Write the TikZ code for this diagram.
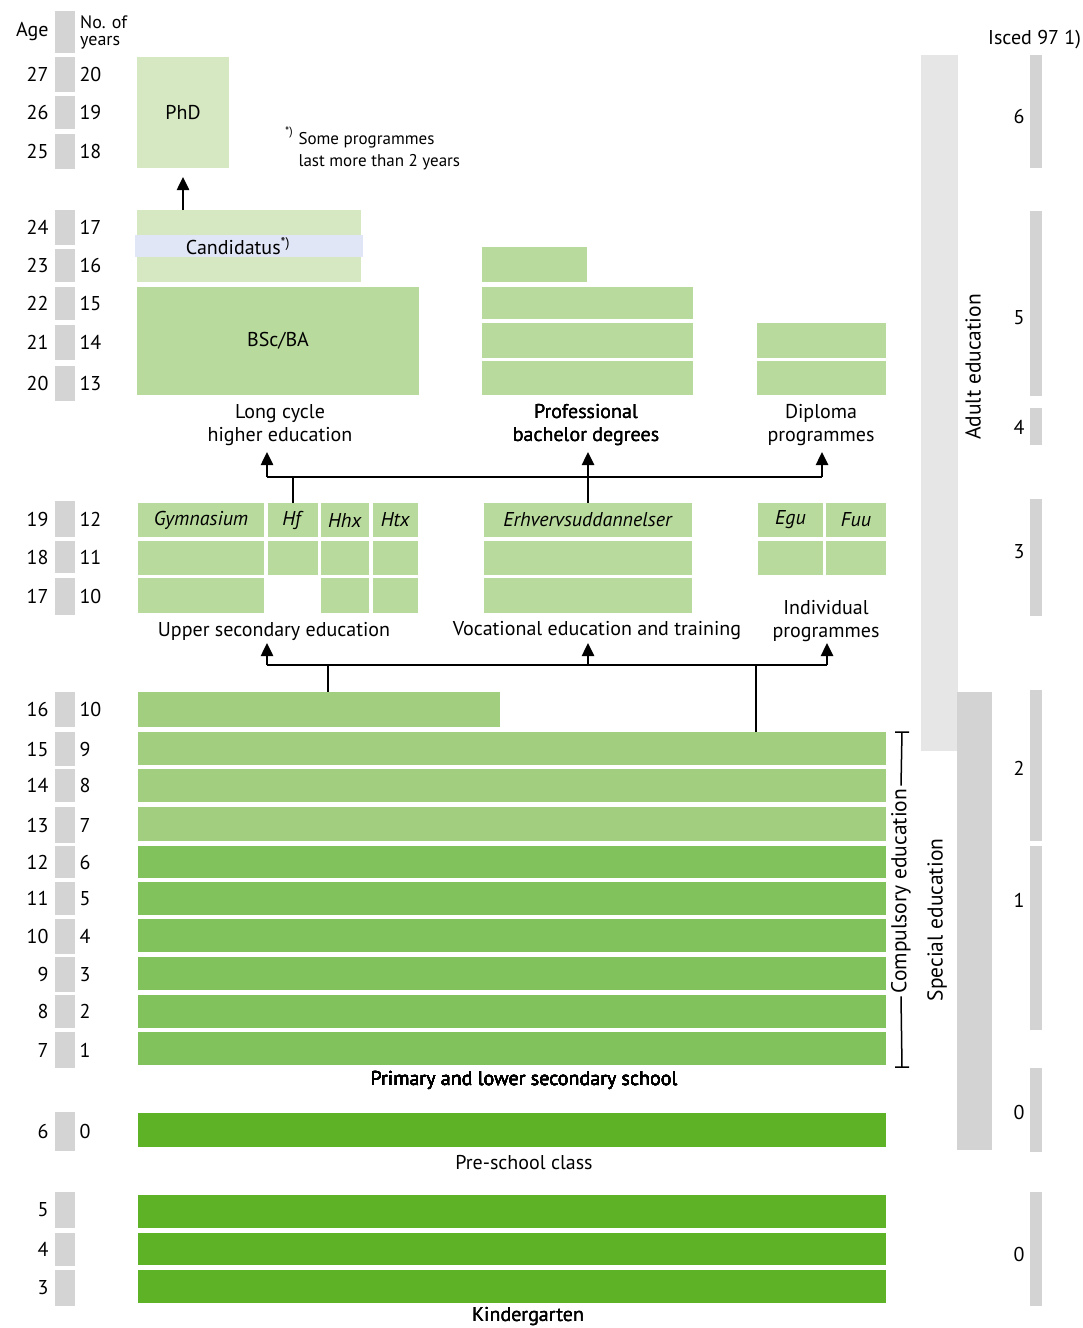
\documentclass[tikz,border=0pt]{standalone}
\usepackage{fontspec}
\setmainfont{PT Sans}
\usetikzlibrary{arrows.meta,positioning}

\definecolor{ageGrey}{HTML}{D4D4D4}
\definecolor{adultGrey}{HTML}{E6E6E6}
\definecolor{specGrey}{HTML}{D3D3D3}
\definecolor{paleGreen}{HTML}{D5E8C2}
\definecolor{candBlue}{HTML}{E1E6F6}
\definecolor{midGreen}{HTML}{B9DA9D}
\definecolor{lowGreen}{HTML}{A1CF7F}
\definecolor{primGreen}{HTML}{82C25C}
\definecolor{preGreen}{HTML}{5EB226}

\tikzset{
  blk/.style={fill=#1, inner sep=0pt, outer sep=0pt, anchor=north west},
  bus/.style={line width=2.5pt},
  arr/.style={line width=2.5pt, -{Triangle[width=12pt,length=13pt]}},
  lbl/.style={align=center, inner sep=1pt},
  vert/.style={rotate=90, font=\fontsize{21.5}{23}\selectfont}
}

% block from (x1,y1) to (x2,y2), y counted downwards
\newcommand\blkat[7]{\node[blk=#6, minimum width={(#4-#2)*1pt}, minimum height={(#5-#3)*1pt}] (#1) at (#2,#3) {#7};}

\begin{document}
\begin{tikzpicture}[x=1pt, y=-1pt, font=\fontsize{20}{23}\selectfont]
  \useasboundingbox (0,0) rectangle (1082,1328);

  % age / years column
  \node[blk=ageGrey, minimum width=20pt, minimum height=42pt] (hdr) at (55,11) {};
  \node[left=3pt of hdr] (agehdr) {Age};
  \node[right=5pt of hdr, align=left, inner sep=0pt, font=\fontsize{18}{17}\selectfont] (yrhdr) {No. of\\years};
  \foreach \a/\n/\t/\b in {27/20/57/92, 26/19/96/129, 25/18/134/169,
      24/17/210/245, 23/16/249/282, 22/15/287/320, 21/14/325/360, 20/13/366/401,
      19/12/501/537, 18/11/541/573, 17/10/578/615,
      16/10/692/727, 15/9/732/766, 14/8/769/802, 13/7/807/843, 12/6/846/878,
      11/5/882/915, 10/4/919/954, 9/3/957/992, 8/2/995/1028, 7/1/1032/1068,
      6/0/1112/1151, 5//1192/1228, 4//1233/1266, 3//1270/1306}
  {
    \blkat{row\a}{55}{\t}{75}{\b}{ageGrey}{}
    \node[left=3pt of row\a] (age\a) {\a};
    \node[right=1pt of row\a] (yrs\a) {\n};
  }

  % higher education
  \blkat{phd}{137}{57}{229}{168}{paleGreen}{PhD}
  \node[font=\fontsize{17}{22}\selectfont, anchor=north west, align=left] (note) at (295,129) {Some programmes\\last more than 2 years};
  \node[font=\fontsize{12}{12}\selectfont] (star) at (289,133) {*)};

  \blkat{cand}{137}{210}{361}{282}{paleGreen}{}
  \blkat{candband}{135}{235}{363}{257}{candBlue}{}
  \node (candtxt) at (238,246) {Candidatus\textsuperscript{*)}};
  \blkat{bsc}{137}{287}{419}{395}{midGreen}{BSc/BA}
  \node[lbl] (lch) at (280,425) {Long cycle\\higher education};

  \blkat{pb0}{482}{247}{587}{282}{midGreen}{}
  \foreach \r/\t/\b in {1/287/319, 2/323/358, 3/361/395}
    \blkat{pb\r}{482}{\t}{693}{\b}{midGreen}{}
  \node[lbl] (pbd) at (586,425) {Professional\\bachelor degrees};

  \blkat{dp1}{757}{323}{886}{358}{midGreen}{}
  \blkat{dp2}{757}{361}{886}{395}{midGreen}{}
  \node[lbl] (dip) at (821,425) {Diploma\\programmes};

  \draw[arr] (phd.south |- cand.north) -- ([yshift=-9pt]phd.south);

  % upper secondary
  \blkat{gym1}{138}{503}{264}{537}{midGreen}{\textit{Gymnasium}}
  \blkat{hf1}{268}{503}{318}{537}{midGreen}{\textit{Hf}}
  \blkat{hhx1}{321}{503}{369}{537}{midGreen}{\textit{Hhx}}
  \blkat{htx1}{373}{503}{418}{537}{midGreen}{\textit{Htx}}
  \blkat{erh1}{484}{503}{692}{537}{midGreen}{\textit{Erhvervsuddannelser}}
  \blkat{egu1}{758}{503}{823}{537}{midGreen}{\textit{Egu}}
  \blkat{fuu1}{826}{503}{886}{537}{midGreen}{\textit{Fuu}}
  \foreach \r/\t/\b in {2/541/575, 3/578/613} {
    \blkat{gym\r}{138}{\t}{264}{\b}{midGreen}{}
    \blkat{hhx\r}{321}{\t}{369}{\b}{midGreen}{}
    \blkat{htx\r}{373}{\t}{418}{\b}{midGreen}{}
    \blkat{erh\r}{484}{\t}{692}{\b}{midGreen}{}
  }
  \blkat{hf2}{268}{541}{318}{575}{midGreen}{}
  \blkat{egu2}{758}{541}{823}{575}{midGreen}{}
  \blkat{fuu2}{826}{541}{886}{575}{midGreen}{}

  \node[lbl] (use) at (274,631) {Upper secondary education};
  \node[lbl] (vet) at (597,631) {Vocational education and training};
  \node[lbl] (ind) at (826,621) {Individual\\programmes};

  % arrows to higher education
  \coordinate (ub1) at (267,477);
  \coordinate (ub3) at (822,477);
  \draw[bus] (ub1) -- (ub3);
  \draw[bus] (hf1.north) -- (hf1.north |- ub1);
  \draw[bus] (erh1.north) -- (erh1.north |- ub1);
  \draw[arr] (ub1) -- ++(0,-25);
  \draw[arr] (erh1.north |- ub1) -- ++(0,-25);
  \draw[arr] (ub3) -- ++(0,-25);

  % primary and lower secondary
  \blkat{p16}{138}{692}{500}{727}{lowGreen}{}
  \foreach \n/\t/\b/\c in {15/732/765/lowGreen, 14/769/802/lowGreen, 13/807/841/lowGreen,
      12/846/878/primGreen, 11/882/915/primGreen, 10/919/952/primGreen,
      9/957/990/primGreen, 8/995/1028/primGreen, 7/1032/1065/primGreen}
    \blkat{p\n}{138}{\t}{886}{\b}{\c}{}
  \node[lbl] (prim) at (524,1080) {Primary and lower secondary school};

  % arrows to upper secondary
  \coordinate (lb1) at (267,665);
  \coordinate (lb3) at (827,665);
  \coordinate (lj1) at (328,665);
  \coordinate (lj2) at (756,665);
  \draw[bus] (lb1) -- (lb3);
  \draw[bus] (lj1) -- (lj1 |- p16.north);
  \draw[bus] (lj2) -- (lj2 |- p15.north);
  \draw[arr] (lb1) -- ++(0,-22);
  \draw[arr] (erh1.north |- lb1) -- ++(0,-22);
  \draw[arr] (lb3) -- ++(0,-22);

  % pre-school and kindergarten
  \blkat{pre}{138}{1113}{886}{1147}{preGreen}{}
  \node[lbl] (prelbl) at (524,1163) {Pre-school class};
  \foreach \n/\t/\b in {5/1195/1228, 4/1233/1265, 3/1270/1303}
    \blkat{k\n}{138}{\t}{886}{\b}{preGreen}{}
  \node[lbl] (kind) at (528,1317) {Kindergarten};

  % compulsory bracket
  \node[vert, inner sep=3pt] (comp) at (901,891) {Compulsory education};
  \coordinate (ct) at (902,732);
  \coordinate (cb) at (902,1067);
  \draw[line width=1.5pt] (comp.east) -- (ct) ([xshift=-7pt]ct) -- ([xshift=7pt]ct);
  \draw[line width=1.5pt] (comp.west) -- (cb) ([xshift=-7pt]cb) -- ([xshift=7pt]cb);

  % adult and special education
  \blkat{adult}{921}{55}{958}{751}{adultGrey}{}
  \node[vert] (adultlbl) at (973,367) {Adult education};
  \blkat{spec}{957}{692}{992}{1150}{specGrey}{}
  \node[vert] (speclbl) at (937,920) {Special education};

  % isced levels
  \node[anchor=west, inner sep=0pt] (iscedhdr) at (988,40) {Isced 97 1)};
  \foreach \k/\t/\b/\l/\m in {a/55/168/6/116, b/211/396/5/318, c/408/445/4/427,
      d/499/616/3/552, e/690/841/2/768, f/846/1030/1/900, g/1068/1152/0/1112,
      h/1192/1306/0/1254}
  {
    \blkat{isc\k}{1030}{\t}{1042}{\b}{specGrey}{}
    \node (iscl\k) at (1019,\m) {\l};
  }
\end{tikzpicture}
\end{document}
